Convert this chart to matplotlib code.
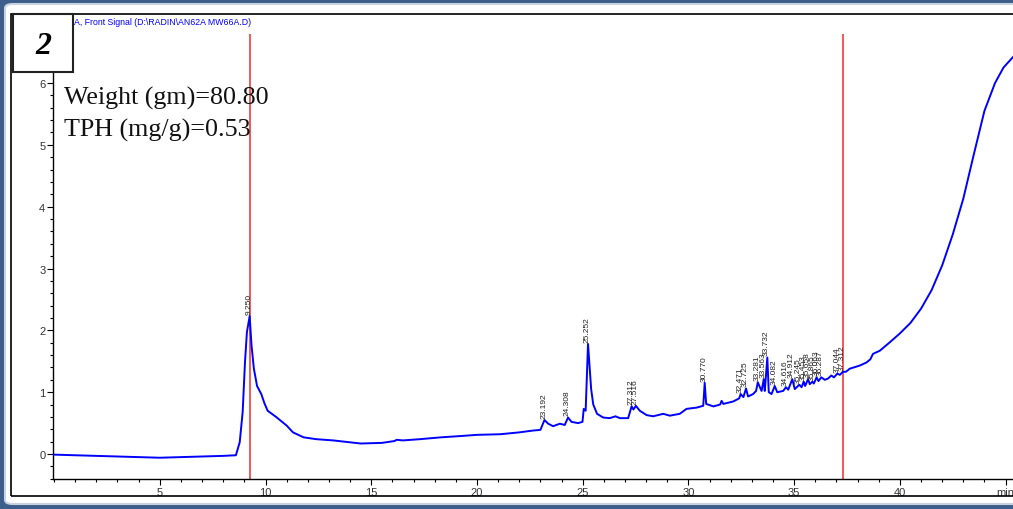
import numpy as np
import matplotlib
matplotlib.use("Agg")
import matplotlib.pyplot as plt
from matplotlib.patches import Rectangle, FancyBboxPatch
from matplotlib.ticker import MultipleLocator

# chromatogram trace (min, signal) between peaks
trace_t = [0.0, 1.0, 2.0, 3.0, 4.0, 5.0, 6.0, 7.0, 8.0, 8.6, 8.78, 8.92, 9.03, 9.12,
           9.34, 9.45, 9.6, 9.8, 9.95, 10.1, 10.5, 11.0, 11.3, 11.8, 12.4, 13.2, 14.0,
           14.5, 15.5, 16.1, 16.2, 16.5, 17.3, 18.3, 19.2, 20.0, 21.1, 22.0, 22.66, 23.0,
           23.37, 23.6, 23.92, 24.15, 24.47, 24.78, 24.99, 25.05, 25.14,
           25.32, 25.4, 25.5, 25.68, 25.97, 26.28, 26.55, 26.76, 27.15, 27.4,
           27.7, 28.02, 28.33, 28.81, 29.12, 29.59, 29.91, 30.38, 30.7,
           30.84, 31.18, 31.5, 31.57, 31.65, 32.12, 32.4, 32.6, 32.82, 33.06, 33.2,
           33.38, 33.46, 33.61, 33.8, 33.93, 34.2, 34.48, 34.72, 35.03, 35.35, 35.52,
           35.74, 35.93, 36.15, 36.45, 36.6, 36.76, 36.88, 37.16, 37.45, 37.63, 38.1,
           38.42, 38.6, 38.73, 39.05, 39.5, 40.0, 40.5, 41.0, 41.5, 42.0, 42.5, 43.0,
           43.5, 44.0, 44.5, 44.9, 45.35]
trace_y = [-0.01, -0.02, -0.03, -0.04, -0.05, -0.06, -0.05, -0.04, -0.03, -0.02, 0.19, 0.68, 1.49, 1.97,
           1.75, 1.38, 1.10, 0.97, 0.82, 0.70, 0.60, 0.46, 0.35, 0.27, 0.24, 0.22, 0.19,
           0.17, 0.18, 0.21, 0.23, 0.22, 0.24, 0.27, 0.29, 0.31, 0.32, 0.35, 0.38, 0.39,
           0.49, 0.45, 0.49, 0.47, 0.52, 0.50, 0.52, 0.73, 0.70,
           1.45, 1.05, 0.80, 0.65, 0.59, 0.58, 0.61, 0.58, 0.58, 0.72,
           0.70, 0.63, 0.61, 0.65, 0.62, 0.65, 0.73, 0.75, 0.78,
           0.81, 0.77, 0.80, 0.86, 0.81, 0.85, 0.90, 0.92, 0.93, 0.97, 1.02,
           1.08, 1.02, 1.02, 1.00, 0.97, 1.00, 1.02, 1.04, 1.05, 1.08, 1.10,
           1.13, 1.14, 1.18, 1.20, 1.22, 1.27, 1.24, 1.28, 1.33, 1.38, 1.43,
           1.48, 1.53, 1.62, 1.67, 1.80, 1.95, 2.12, 2.35, 2.65, 3.05, 3.55, 4.13,
           4.85, 5.55, 6.00, 6.25, 6.42]

# integrated peaks: retention time and apex height
peak_rt = [9.250, 23.192, 24.308, 25.252, 27.312, 27.516, 30.770, 32.471, 32.725,
           33.281, 33.563, 33.732, 34.082, 34.616, 34.912, 35.245, 35.453, 35.658,
           35.865, 36.063, 36.287, 37.044, 37.312]
peak_h = [2.23, 0.55, 0.59, 1.78, 0.77, 0.78, 1.15, 0.97, 1.06,
          1.16, 1.21, 1.56, 1.10, 1.08, 1.21, 1.12, 1.17, 1.21,
          1.17, 1.24, 1.24, 1.30, 1.33]

# integration window
window = [9.25, 37.3]

sample_no = "2"
weight_txt = "Weight (gm)=80.80"
tph_txt = "TPH (mg/g)=0.53"
signal_txt = "A, Front Signal (D:\\RADIN\\AN62A MW66A.D)"

W, H = 1013, 510
frame_col = "#3d5e8b"


def fx(x):
    return x / W


def fy(y):
    return 1 - y / H


fig = plt.figure(figsize=(W / 100, H / 100), dpi=100, facecolor=frame_col)

# panel and frame
fig.add_artist(FancyBboxPatch((fx(5), fy(505)), fx(1030 - 5), (505 - 5) / H,
                              boxstyle="round,pad=0,rounding_size=0.008",
                              transform=fig.transFigure, facecolor="white",
                              edgecolor="#c9d2de", lw=1.5, zorder=-2))
fig.add_artist(Rectangle((fx(11), fy(497)), fx(1030 - 11), (497 - 15) / H,
                         transform=fig.transFigure, fill=False,
                         edgecolor="black", lw=1.2, zorder=2))

ax = fig.add_axes([fx(53), fy(480), fx(1013 - 53), (480 - 15) / H])
ax.set_facecolor("none")

t = np.array(trace_t + peak_rt)
y = np.array(trace_y + peak_h)
order = np.argsort(t)
ax.plot(t[order], y[order], color="#0000ff", lw=1.4, zorder=3)

ax.set_xlim(-0.05, 45.35)
ax.set_ylim(-0.404, 7.116)
ax.vlines(window, -0.404, 6.79, color="#f03c3c", lw=1.2, zorder=2)

for rt, h in zip(peak_rt, peak_h):
    ax.annotate(f"{rt:.3f}", (rt, h), xytext=(-0.5, 1.5), textcoords="offset points",
                rotation=90, ha="center", va="bottom", fontsize=6,
                family="Liberation Sans", color="#222222", zorder=4)

for s in ["top", "right"]:
    ax.spines[s].set_visible(False)
for s in ["left", "bottom"]:
    ax.spines[s].set_linewidth(1.0)

ax.set_xticks([5, 10, 15, 20, 25, 30, 35, 40, 45])
ax.set_xticklabels(["5", "10", "15", "20", "25", "30", "35", "40", "min"])
ax.xaxis.set_minor_locator(MultipleLocator(1))
ax.set_yticks(range(0, 7))
ax.yaxis.set_minor_locator(MultipleLocator(0.2))
ax.tick_params(which="major", length=4, width=0.8, labelsize=8, labelcolor="#333333", pad=1.5)
ax.tick_params(which="minor", length=2.5, width=0.8)
for lab in ax.get_xticklabels() + ax.get_yticklabels():
    lab.set_family("Liberation Sans")

# sample number box
fig.add_artist(Rectangle((fx(13), fy(73)), fx(73 - 13), (73 - 15) / H,
                         transform=fig.transFigure, facecolor="white",
                         edgecolor="#222222", lw=1.5, zorder=5))
fig.text(fx(43.5), fy(46.5), sample_no, ha="center", va="center", fontsize=23,
         family="Liberation Serif", weight="bold", style="italic", zorder=6)

fig.text(fx(74), fy(22.5), signal_txt, ha="left", va="center", fontsize=6.3,
         family="Liberation Sans", color="#0000ff", zorder=6)

fig.text(fx(64), fy(105), weight_txt, ha="left", va="baseline", fontsize=18.7,
         family="Liberation Serif", color="#111111", zorder=6)
fig.text(fx(64), fy(136.5), tph_txt, ha="left", va="baseline", fontsize=18.7,
         family="Liberation Serif", color="#111111", zorder=6)

fig.savefig("out.png", dpi=100, facecolor=frame_col)
